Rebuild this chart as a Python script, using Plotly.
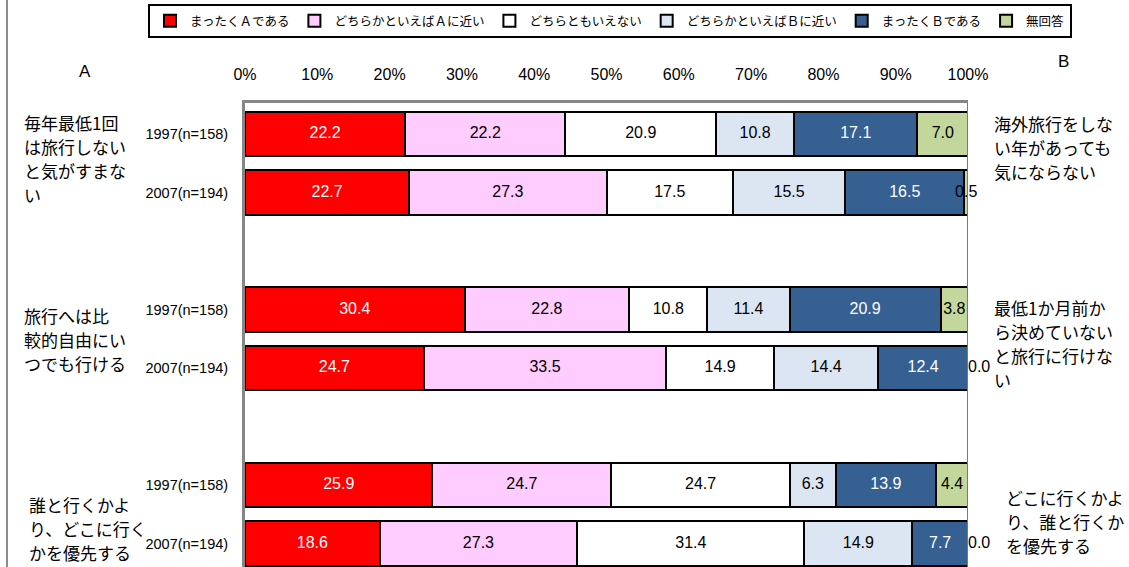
import plotly.graph_objects as go

# Survey items (A side / B side statements) and respondent groups
items_a = [
    ["毎年最低1回", "は旅行しない", "と気がすまな", "い"],
    ["旅行へは比", "較的自由にい", "つでも行ける"],
    ["誰と行くかよ", "り、どこに行く", "かを優先する"],
]
items_b = [
    ["海外旅行をしな", "い年があっても", "気にならない"],
    ["最低1か月前か", "ら決めていない", "と旅行に行けな", "い"],
    ["どこに行くかよ", "り、誰と行くか", "を優先する"],
]
years = ["1997(n=158)", "2007(n=194)"]

answers = [
    "まったくＡである",
    "どちらかといえばＡに近い",
    "どちらともいえない",
    "どちらかといえばＢに近い",
    "まったくＢである",
    "無回答",
]
colors = ["#FF0000", "#FFCCFF", "#FFFFFF", "#DCE6F2", "#376092", "#C3D69B"]
text_colors = ["white", "black", "black", "black", "white", "black"]

# Percent per answer, rows ordered: item1-1997, item1-2007, item2-1997, ...
v_muttaku_a = [22.2, 22.7, 30.4, 24.7, 25.9, 18.6]
v_dochira_a = [22.2, 27.3, 22.8, 33.5, 24.7, 27.3]
v_neutral = [20.9, 17.5, 10.8, 14.9, 24.7, 31.4]
v_dochira_b = [10.8, 15.5, 11.4, 14.4, 6.3, 14.9]
v_muttaku_b = [17.1, 16.5, 20.9, 12.4, 13.9, 7.7]
v_no_answer = [7.0, 0.5, 3.8, 0.0, 4.4, 0.0]
series = [v_muttaku_a, v_dochira_a, v_neutral, v_dochira_b, v_muttaku_b, v_no_answer]

# Row positions: two years per item, one blank slot between items
row_pos = [g * 3 + i for g in range(len(items_a)) for i in range(len(years))]
row_labels = [y for _ in items_a for y in years]

W, H = 1129, 567
ML, MR, MT, MB = 245, 161, 103, 0
plot_w = W - ML - MR
plot_h = H - MT - MB

FONT_LATIN = "Liberation Sans, Arial, sans-serif"
FONT_JP = "Noto Sans CJK JP, sans-serif"


def px_x(x):
    return (x - ML) / plot_w


def px_y(y):
    return (H - MB - y) / plot_h


fig = go.Figure()

# 100%-stacked bars
for name, vals, col in zip(answers, series, colors):
    fig.add_trace(go.Bar(
        name=name,
        y=row_pos,
        x=vals,
        orientation="h",
        width=0.76,
        marker=dict(color=col, line=dict(color="black", width=2)),
        textposition="none",
        hoverinfo="skip",
    ))

# Value labels centred on each (normalised) segment
row_totals = [sum(s[r] for s in series) for r in range(len(row_pos))]
cum = [0.0] * len(row_pos)
for vals, tcol in zip(series, text_colors):
    mids, pos = [], []
    for r, v in enumerate(vals):
        start = cum[r] / row_totals[r] * 100
        width = v / row_totals[r] * 100
        cum[r] += v
        mids.append(min(round(start + width / 2, 6), 100.0))
        pos.append("middle right" if v == 0 else "middle center")
    fig.add_trace(go.Scatter(
        x=mids,
        y=row_pos,
        mode="text",
        text=[f"{v:.1f}" for v in vals],
        textposition=pos,
        textfont=dict(color=tcol, size=16, family=FONT_LATIN),
        showlegend=False,
        hoverinfo="skip",
        cliponaxis=False,
    ))

annotations = []
LINE_STEP = 24
# Item statements on the A side (left) and B side (right): (x, first line y)
left_cfg = [(22, 122), (22, 315), (27, 504)]
right_cfg = [(992, 124), (992, 307), (1004, 497)]
for lines, (lx, ly) in zip(items_a, left_cfg):
    for j, line in enumerate(lines):
        annotations.append(dict(
            text=line, x=px_x(lx), xref="paper", y=px_y(ly + j * LINE_STEP), yref="paper",
            xanchor="left", yanchor="middle", align="left", showarrow=False,
            font=dict(family=FONT_JP, size=17, color="black"),
        ))
for lines, (rx, ry) in zip(items_b, right_cfg):
    for j, line in enumerate(lines):
        annotations.append(dict(
            text=line, x=px_x(rx), xref="paper", y=px_y(ry + j * LINE_STEP), yref="paper",
            xanchor="left", yanchor="middle", align="left", showarrow=False,
            font=dict(family=FONT_JP, size=17, color="black"),
        ))

# Side headings
annotations.append(dict(
    text="A", x=px_x(85), xref="paper", y=px_y(72), yref="paper",
    xanchor="center", yanchor="middle", showarrow=False,
    font=dict(family=FONT_LATIN, size=17, color="black"),
))
annotations.append(dict(
    text="B", x=px_x(1063), xref="paper", y=px_y(62), yref="paper",
    xanchor="center", yanchor="middle", showarrow=False,
    font=dict(family=FONT_LATIN, size=17, color="black"),
))

shapes = [
    # 100% reference line on the right edge of the plot area
    dict(type="line", xref="x", yref="paper", x0=100, x1=100, y0=0, y1=1,
         line=dict(color="#4F81BD", width=2), layer="above"),
    # outer frame edge on the left
    dict(type="line", xref="paper", yref="paper",
         x0=px_x(7), x1=px_x(7), y0=0, y1=px_y(0),
         line=dict(color="#8C8C8C", width=2)),
]

fig.update_layout(
    width=W, height=H,
    margin=dict(l=ML, r=MR, t=MT, b=MB, pad=0, autoexpand=False),
    barmode="stack",
    barnorm="percent",
    plot_bgcolor="white",
    paper_bgcolor="white",
    font=dict(family=FONT_LATIN, color="black"),
    showlegend=True,
    legend=dict(
        orientation="h",
        xref="paper", yref="paper",
        x=px_x(148), y=px_y(4),
        xanchor="left", yanchor="top",
        bordercolor="black", borderwidth=2,
        font=dict(family=FONT_JP, size=12.5, color="black"),
        itemwidth=30,
        tracegroupgap=0,
        traceorder="normal",
    ),
    xaxis=dict(
        side="top",
        range=[0, 100],
        dtick=10,
        tick0=0,
        ticksuffix="%",
        showgrid=False,
        zeroline=False,
        showline=True,
        linecolor="#868686",
        linewidth=3,
        ticks="outside",
        ticklen=14,
        tickcolor="rgba(0,0,0,0)",
        tickfont=dict(family=FONT_LATIN, size=16, color="black"),
    ),
    yaxis=dict(
        range=[7.4, -0.53],
        tickmode="array",
        tickvals=row_pos,
        ticktext=row_labels,
        showgrid=False,
        zeroline=False,
        showline=True,
        linecolor="#868686",
        linewidth=3,
        ticks="outside",
        ticklen=11,
        tickcolor="rgba(0,0,0,0)",
        tickfont=dict(family=FONT_LATIN, size=14.5, color="black"),
    ),
    annotations=annotations,
    shapes=shapes,
)

fig.write_html("out.html")
